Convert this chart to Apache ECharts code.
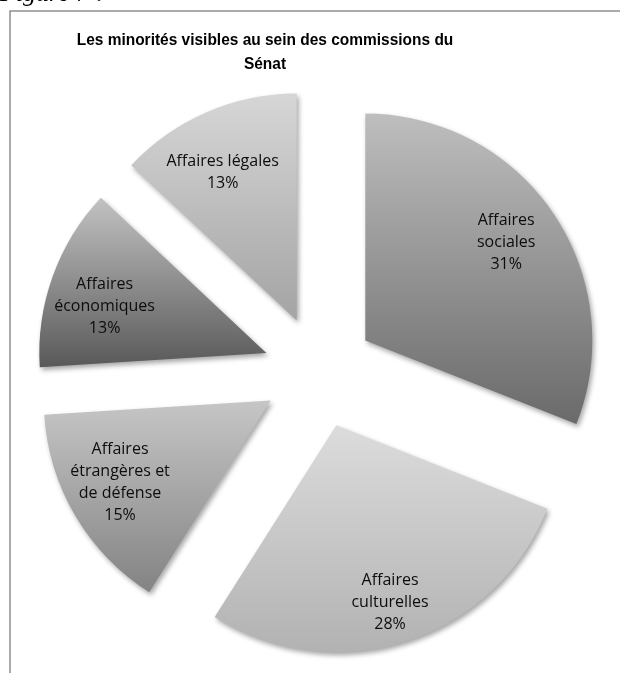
<!DOCTYPE html>
<html lang="fr">
<head>
<meta charset="utf-8">
<title>Les minorités visibles au sein des commissions du Sénat</title>
<script src="https://cdn.jsdelivr.net/npm/echarts@6/dist/echarts.min.js"></script>
<style>
  html, body { margin: 0; padding: 0; background: #ffffff; }
  #chart { width: 620px; height: 673px; }
</style>
</head>
<body>
<div id="chart"></div>
<script>
// Répartition des minorités visibles par commission (en %)
const commissions = [
  'Affaires\nsociales',
  'Affaires\nculturelles',
  'Affaires\nétrangères et\nde défense',
  'Affaires\néconomiques',
  'Affaires légales'
];
const parts = [31, 28, 15, 13, 13];

// Dégradé vertical de chaque secteur (haut -> bas)
const shades = [
  ['#bebebe', '#6a6a6a'],
  ['#dcdcdc', '#b2b2b2'],
  ['#c6c6c6', '#838383'],
  ['#c2c2c2', '#595959'],
  ['#d6d6d6', '#a4a4a4']
];
// Petit décalage de chaque étiquette dans son secteur
const labelNudge = [[-3, 0], [0, 12], [-1, -7], [2, 12], [-5, 12]];

const chart = echarts.init(document.getElementById('chart'), null, { renderer: 'canvas' });

const center = [319, 372];
const radius = 227;
const explode = 56;

const sliceData = commissions.map((name, i) => ({
  name: name,
  value: parts[i],
  selected: true,
  itemStyle: {
    color: new echarts.graphic.LinearGradient(0, 0, 0, 1, [
      { offset: 0, color: shades[i][0] },
      { offset: 1, color: shades[i][1] }
    ])
  }
}));

const labelData = commissions.map((name, i) => ({
  name: name,
  value: parts[i],
  selected: true
}));

chart.setOption({
  animation: false,
  graphic: [
    {
      type: 'rect',
      silent: true,
      shape: { x: 10, y: 11, width: 640, height: 700 },
      style: { fill: 'none', stroke: '#8e8e8e', lineWidth: 1.5 },
      z: 0
    },
    {
      type: 'text',
      silent: true,
      x: 0,
      y: -19,
      style: {
        text: 'Figure 7 :',
        font: 'italic 26px Liberation Serif, DejaVu Serif, serif',
        fill: '#000000'
      }
    },
    {
      type: 'text',
      silent: true,
      x: 265,
      y: 28,
      scaleX: 0.91,
      style: {
        text: 'Les minorités visibles au sein des commissions du\nSénat',
        fontFamily: "'Liberation Sans', Arial, sans-serif",
        fontWeight: 'bold',
        fontSize: 17,
        lineHeight: 24,
        align: 'center',
        textAlign: 'center',
        fill: '#000000'
      }
    }
  ],
  series: [
    {
      type: 'pie',
      center: center,
      radius: [0, radius],
      startAngle: 90,
      clockwise: true,
      selectedMode: 'multiple',
      selectedOffset: explode,
      silent: true,
      label: { show: false },
      labelLine: { show: false },
      emphasis: { disabled: true, scale: false },
      itemStyle: {
        borderWidth: 0,
        shadowBlur: 5,
        shadowOffsetX: 2,
        shadowOffsetY: 3,
        shadowColor: 'rgba(0,0,0,0.35)'
      },
      data: sliceData,
      z: 2
    },
    {
      // Série transparente servant uniquement à placer les étiquettes
      type: 'pie',
      center: center,
      radius: [115, radius],
      startAngle: 90,
      clockwise: true,
      selectedMode: 'multiple',
      selectedOffset: explode,
      silent: true,
      avoidLabelOverlap: false,
      emphasis: { disabled: true, scale: false },
      itemStyle: { color: 'rgba(0,0,0,0)', borderWidth: 0 },
      labelLine: { show: false },
      label: {
        show: true,
        position: 'inside',
        formatter: (p) => p.name + '\n' + p.value + '%',
        fontFamily: "'Open Sans', 'Noto Sans', sans-serif",
        fontSize: 16,
        lineHeight: 22,
        color: '#0d0d0d',
        align: 'center'
      },
      labelLayout: (p) => ({
        dx: labelNudge[p.dataIndex][0],
        dy: labelNudge[p.dataIndex][1]
      }),
      data: labelData,
      z: 3
    }
  ]
});
</script>
</body>
</html>
